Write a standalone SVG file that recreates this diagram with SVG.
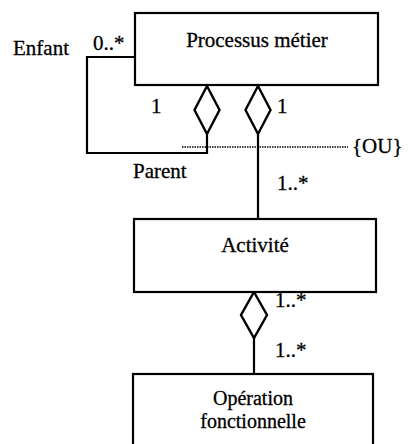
<svg xmlns="http://www.w3.org/2000/svg" width="409" height="444" viewBox="0 0 409 444">
<style>
.box{fill:#fff;stroke:#000;stroke-width:2.2}
.ln{fill:none;stroke:#000;stroke-width:2.2}
.dia{fill:#fff;stroke:#000;stroke-width:2.4}
.dot{fill:none;stroke:#000;stroke-width:1.5;stroke-dasharray:1.5 1}
text{font-family:"Liberation Serif","Times New Roman",serif;font-size:21px;fill:#000;stroke:#000;stroke-width:0.3}
.c{text-anchor:middle}
</style>
<rect width="409" height="444" fill="#fff"/>
<g id="connectors">
<polyline class="ln" points="207,133 207,153 87,153 87,57 135,57"/>
<line class="ln" x1="258" y1="133" x2="258" y2="219"/>
<line class="ln" x1="254" y1="337" x2="254" y2="374"/>
<line class="dot" x1="182" y1="147" x2="348" y2="147"/>
<polygon class="dia" points="207,86 219.5,110 207,134 194.5,110"/>
<polygon class="dia" points="258,86 270.5,110 258,134 245.5,110"/>
<polygon class="dia" points="254,292 267,315 254,338 241,315"/>
<text x="13" y="55">Enfant</text>
<text x="93" y="50">0..*</text>
<text x="151" y="113">1</text>
<text x="277" y="113">1</text>
<text x="133" y="178">Parent</text>
<text x="352" y="153">{OU}</text>
<text x="277" y="190">1..*</text>
<text x="275" y="307">1..*</text>
<text x="275" y="357">1..*</text>
</g>
<g id="processus">
<rect class="box" x="135" y="13" width="243" height="72"/>
<text class="c" x="257" y="47">Processus métier</text>
</g>
<g id="activite">
<rect class="box" x="134" y="219" width="242" height="73"/>
<text class="c" x="255" y="252">Activité</text>
</g>
<g id="operation">
<rect class="box" x="133" y="374" width="240" height="80"/>
<text class="c" x="253" y="405" style="font-size:20px">Opération</text>
<text class="c" x="253" y="428" style="font-size:20px">fonctionnelle</text>
</g>
</svg>
